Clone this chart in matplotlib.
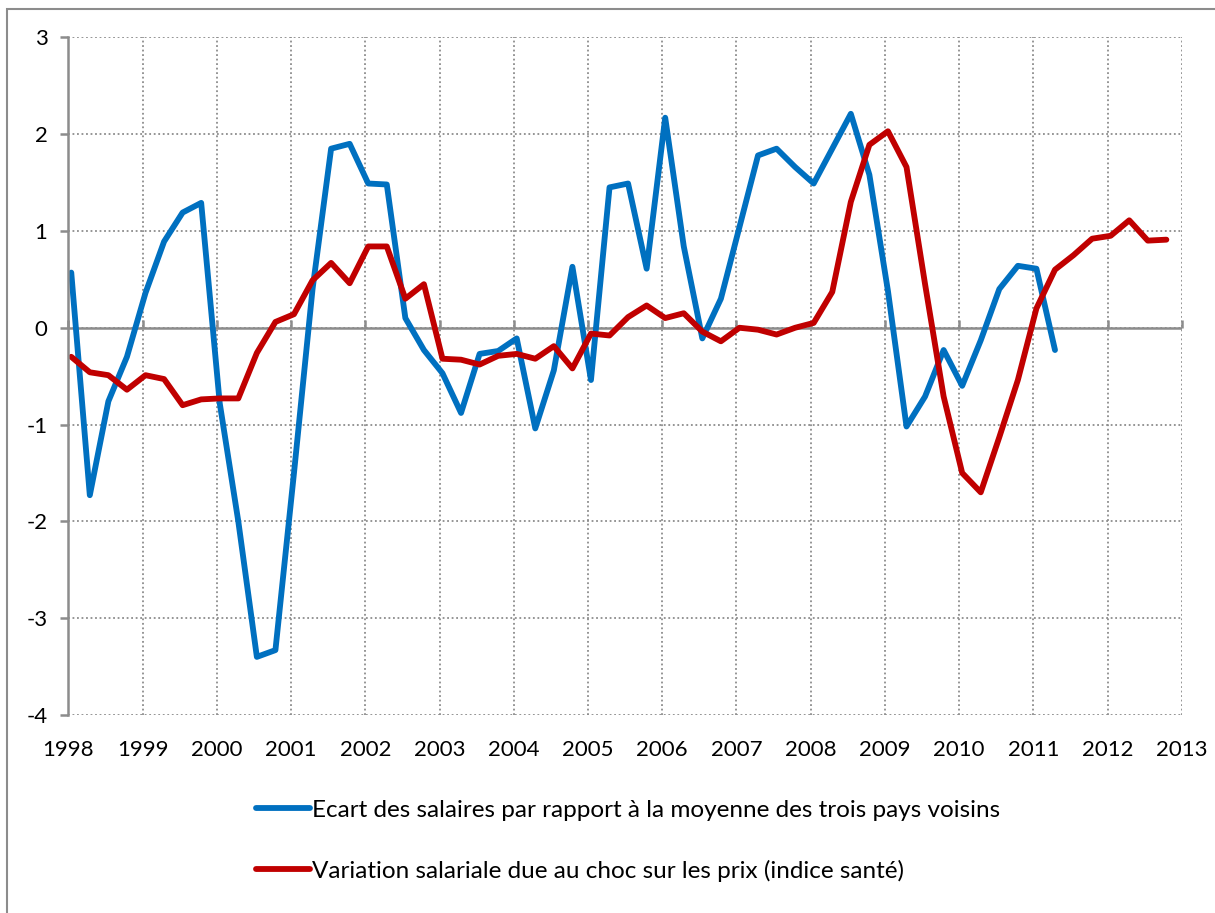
import numpy as np
import matplotlib.pyplot as plt
from matplotlib.patches import Rectangle

plt.rcParams['font.family'] = ['Lato', 'DejaVu Sans']
plt.rcParams['axes.unicode_minus'] = False

# trimestres 1998T1 .. 2012T4
start_year = 1998.04
n_quarters = 60

ecart_salaires = [0.57, -1.73, -0.76, -0.30, 0.36, 0.89, 1.19, 1.29,
                  -0.78, -2.00, -3.40, -3.33, -1.50, 0.40, 1.85, 1.90,
                  1.49, 1.48, 0.10, -0.23, -0.47, -0.88, -0.27, -0.24,
                  -0.11, -1.04, -0.44, 0.63, -0.54, 1.45, 1.49, 0.61,
                  2.17, 0.84, -0.11, 0.30, 1.04, 1.78, 1.85, 1.66,
                  1.49, 1.85, 2.21, 1.58, 0.38, -1.02, -0.71, -0.23,
                  -0.60, -0.13, 0.40, 0.64, 0.61, -0.23]

variation_prix = [-0.30, -0.46, -0.49, -0.64, -0.49, -0.53, -0.80, -0.74,
                  -0.73, -0.73, -0.26, 0.06, 0.14, 0.49, 0.67, 0.46,
                  0.84, 0.84, 0.30, 0.45, -0.32, -0.33, -0.38, -0.29,
                  -0.27, -0.32, -0.19, -0.42, -0.06, -0.08, 0.11, 0.23,
                  0.10, 0.15, -0.04, -0.14, 0.00, -0.02, -0.07, 0.00,
                  0.05, 0.37, 1.30, 1.89, 2.03, 1.66, 0.45, -0.71,
                  -1.50, -1.70, -1.13, -0.54, 0.20, 0.60, 0.75, 0.92,
                  0.95, 1.11, 0.90, 0.91]

label_ecart = "Ecart des salaires par rapport à la moyenne des trois pays voisins"
label_prix = "Variation salariale due au choc sur les prix (indice santé)"

years = np.arange(1998, 2014)
x = start_year + np.arange(n_quarters) * 0.25

fig = plt.figure(figsize=(12.15, 9.13), dpi=100)
ax = fig.add_axes([0.0562, 0.2169, 0.9166, 0.7422])

# cadre de la zone du graphique
fig.patches.append(Rectangle((7 / 1215, -0.05), 1.2, 1 - 9.5 / 913 + 0.05,
                             transform=fig.transFigure, fill=False,
                             edgecolor='#8c8c8c', linewidth=1.5))

l1, = ax.plot(x[:len(ecart_salaires)], ecart_salaires, color='#0070C0', linewidth=4.2,
              solid_joinstyle='round', solid_capstyle='round')
l2, = ax.plot(x[:len(variation_prix)], variation_prix, color='#C00000', linewidth=4.2,
              solid_joinstyle='round', solid_capstyle='round')

ax.set_xlim(1998, 2013)
ax.set_ylim(-4, 3)
ax.set_xticks(years)
ax.set_yticks(np.arange(-4, 4))
ax.grid(True, color='#8c8c8c', linestyle=(0, (1, 1.5)), linewidth=1.3)
ax.set_axisbelow(True)
ax.axhline(0, color='#8c8c8c', linewidth=1.8, zorder=1)

for s in ['top', 'right', 'bottom']:
    ax.spines[s].set_visible(False)
ax.spines['left'].set_color('#8c8c8c')
ax.spines['left'].set_linewidth(1.8)

ax.tick_params(axis='y', direction='out', length=6, width=1.8, color='#8c8c8c',
               labelsize=16, pad=9)
ax.tick_params(axis='x', length=0, labelsize=16, pad=18)

# petites graduations sur la ligne du zéro
sec = ax.secondary_xaxis(4 / 7)
sec.set_xticks(years)
sec.tick_params(direction='out', length=6, width=1.8, color='#8c8c8c', labelbottom=False, labeltop=False)
sec.spines['bottom'].set_visible(False)
sec.spines['top'].set_visible(False)

fig.legend(handles=[l1, l2], labels=[label_ecart, label_prix], loc='center',
           bbox_to_anchor=(0.517, 0.079), frameon=False, fontsize=17.5,
           handlelength=2.2, handletextpad=0.1, labelspacing=1.6)

fig.savefig('out.png', dpi=100)
